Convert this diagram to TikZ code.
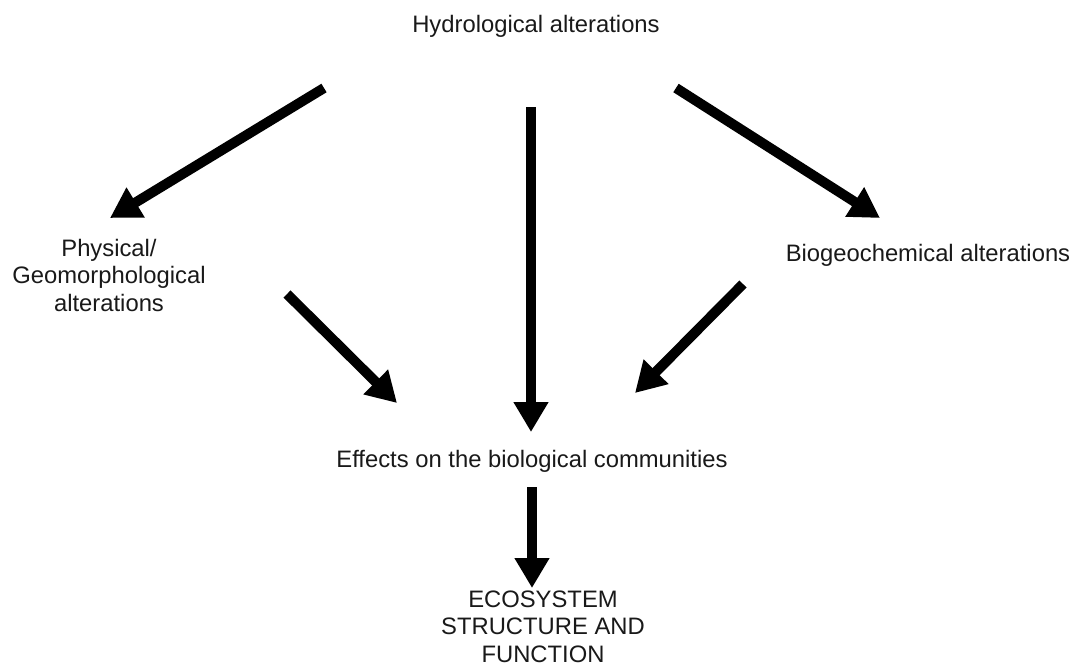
\documentclass[tikz,border=0pt]{standalone}
\usepackage{fontspec}
\setmainfont{Liberation Sans}
\usetikzlibrary{arrows.meta}
\begin{document}
\begin{tikzpicture}[x=0.5pt,y=-0.5pt,
  lbl/.style={inner sep=0pt,outer sep=0pt,align=center,font=\fontsize{11.9}{13.75}\selectfont,text=black!90},
  bigarrow/.style={line width=5pt,-{Triangle[width=16.5pt,length=15pt]}}]
\useasboundingbox (0,0) rectangle (1072,666);
\node[lbl,anchor=base] (hydro) at (536,32) {Hydrological alterations};
\node[lbl,anchor=base] (phys) at (109,311) {Physical/\\Geomorphological\\alterations};
\node[lbl,anchor=base] (bio) at (928,261) {Biogeochemical alterations};
\node[lbl,anchor=base] (eff) at (532,467) {Effects on the biological communities};
\node[lbl,anchor=base] (eco) at (543,662) {ECOSYSTEM\\STRUCTURE AND\\FUNCTION};
\coordinate (a1s) at (324,88);  \coordinate (a1e) at (110,218);
\coordinate (a2s) at (531,107); \coordinate (a2e) at (531,432);
\coordinate (a3s) at (676,88);  \coordinate (a3e) at (880,218);
\coordinate (a4s) at (287,294); \coordinate (a4e) at (397,403);
\coordinate (a5s) at (743,284); \coordinate (a5e) at (635,393);
\coordinate (a6s) at (532,487); \coordinate (a6e) at (532,588);
\draw[bigarrow] (a1s) -- (a1e);
\draw[bigarrow] (a2s) -- (a2e);
\draw[bigarrow] (a3s) -- (a3e);
\draw[bigarrow] (a4s) -- (a4e);
\draw[bigarrow] (a5s) -- (a5e);
\draw[bigarrow] (a6s) -- (a6e);
\end{tikzpicture}
\end{document}
